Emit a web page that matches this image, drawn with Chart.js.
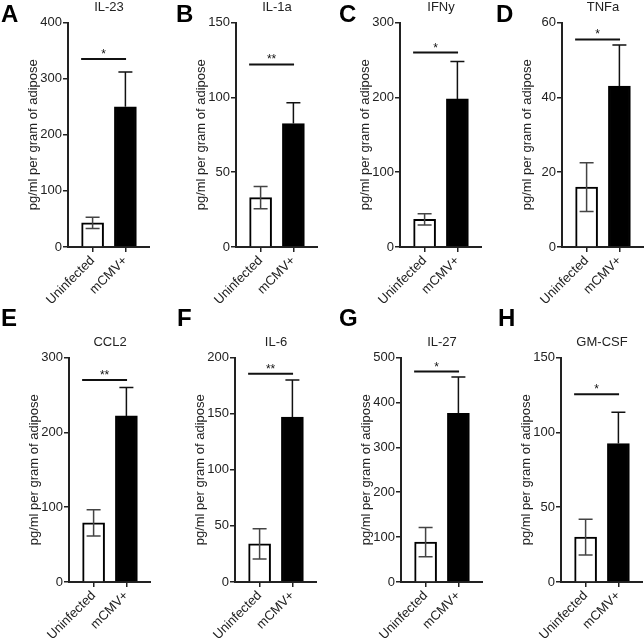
<!DOCTYPE html>
<html>
<head>
<meta charset="utf-8">
<script src="https://cdn.jsdelivr.net/npm/chart.js@4.4.1/dist/chart.umd.min.js"></script>
<style>
  html, body { margin: 0; padding: 0; background: #fff; overflow: hidden; }
  #wrap { position: relative; width: 644px; height: 640px; }
  .panel { position: absolute; }
  .letter {
    position: absolute;
    font: bold 24px "Liberation Sans", Arial, sans-serif;
    line-height: 24px;
    color: #000;
  }
</style>
</head>
<body>
<div id="wrap"></div>
<script>
// cytokine values (pg/ml per gram of adipose)
const letters = ["A", "B", "C", "D", "E", "F", "G", "H"];
const cytokines = ["IL-23", "IL-1a", "IFNy", "TNFa", "CCL2", "IL-6", "IL-27", "GM-CSF"];
const groups = ["Uninfected", "mCMV+"];
const uninfectedMean = [43, 33, 37, 16, 79, 34, 89, 30];
const uninfectedSem = [10, 7.5, 7.5, 6.5, 17.5, 13.5, 32.5, 12];
const infectedMean = [250, 82.5, 198, 43, 222, 147, 376, 92.5];
const infectedSem = [62, 14, 50, 11, 38, 33, 81, 21];
const yMax = [400, 150, 300, 60, 300, 200, 500, 150];
const yStep = [100, 50, 100, 20, 100, 50, 100, 50];
const sigY = [335, 122, 260, 55.5, 270, 185.5, 469, 125.5];
const sigLabel = ["*", "**", "*", "*", "**", "**", "*", "*"];

// page layout
const panelLeft = [0, 168, 332, 494, 1, 167, 333, 493];
const rowTop = [0, 335];
const letterPos = [[1, 2], [176, 2], [339, 2], [496, 2], [1, 306], [177, 306], [339, 306], [498, 306]];

const FONT = "'Liberation Sans', Arial, sans-serif";
const INK = "#222";

Chart.defaults.font.family = FONT;
Chart.defaults.color = INK;

// error bars + significance bar, drawn on top of the bars
function makeOverlay(p) {
  return {
    id: "overlay" + p,
    afterDatasetsDraw(chart) {
      const ctx = chart.ctx;
      const x = chart.scales.x;
      const y = chart.scales.y;
      const bars = chart.getDatasetMeta(0).data;
      const means = [uninfectedMean[p], infectedMean[p]];
      const sems = [uninfectedSem[p], infectedSem[p]];

      ctx.save();
      ctx.lineWidth = 1.5;
      bars.forEach((bar, i) => {
        const top = y.getPixelForValue(means[i] + sems[i]);
        const bottom = y.getPixelForValue(i === 0 ? means[i] - sems[i] : means[i]);
        ctx.strokeStyle = i === 0 ? "#444" : "#111";
        ctx.beginPath();
        ctx.moveTo(bar.x, top);
        ctx.lineTo(bar.x, bottom);
        ctx.moveTo(bar.x - 7, top);
        ctx.lineTo(bar.x + 7, top);
        if (i === 0) {
          ctx.moveTo(bar.x - 7, bottom);
          ctx.lineTo(bar.x + 7, bottom);
        }
        ctx.stroke();
      });

      // significance line
      const ly = y.getPixelForValue(sigY[p]);
      const x1 = x.getPixelForValue(-0.35);
      const x2 = x.getPixelForValue(1.02);
      ctx.strokeStyle = "#111";
      ctx.lineWidth = 2;
      ctx.beginPath();
      ctx.moveTo(x1, ly);
      ctx.lineTo(x2, ly);
      ctx.stroke();

      ctx.fillStyle = "#111";
      ctx.font = "12px " + FONT;
      ctx.textAlign = "center";
      ctx.textBaseline = "alphabetic";
      ctx.fillText(sigLabel[p], (x1 + x2) / 2, ly - 1);
      ctx.restore();
    }
  };
}

function createPanel(p) {
  const wrap = document.getElementById("wrap");
  const row = p < 4 ? 0 : 1;

  const canvas = document.createElement("canvas");
  canvas.className = "panel";
  canvas.width = 150;
  canvas.height = 305;
  canvas.style.left = panelLeft[p] + "px";
  canvas.style.top = rowTop[row] + "px";
  wrap.appendChild(canvas);

  const letter = document.createElement("div");
  letter.className = "letter";
  letter.textContent = letters[p];
  letter.style.left = letterPos[p][0] + "px";
  letter.style.top = letterPos[p][1] + "px";
  wrap.appendChild(letter);

  new Chart(canvas, {
    type: "bar",
    data: {
      datasets: [{
        data: [
          { x: 0, y: uninfectedMean[p] },
          { x: 1, y: infectedMean[p] }
        ],
        backgroundColor: ["#fff", "#000"],
        borderColor: "#000",
        borderWidth: 2,
        barThickness: 22
      }]
    },
    options: {
      responsive: false,
      animation: false,
      devicePixelRatio: 1,
      layout: {
        padding: { left: 26, right: 0, top: 0, bottom: 0 }
      },
      plugins: {
        legend: { display: false },
        tooltip: { enabled: false },
        title: {
          display: true,
          text: cytokines[p],
          fullSize: false,
          color: INK,
          font: { size: 13, weight: "normal" },
          padding: { top: 0, bottom: 7 }
        }
      },
      scales: {
        x: {
          type: "linear",
          offset: false,
          min: -0.75,
          max: 1.75,
          afterBuildTicks: s => { s.ticks = [{ value: 0 }, { value: 1 }]; },
          afterFit: s => { s.height = 58; },
          ticks: {
            callback: v => groups[v],
            autoSkip: false,
            maxRotation: 45,
            minRotation: 45,
            padding: 1,
            color: INK,
            font: { size: 13 }
          },
          grid: {
            offset: false,
            drawOnChartArea: false,
            tickLength: 5,
            color: INK,
            lineWidth: 1.5
          },
          border: { color: INK, width: 2 }
        },
        y: {
          min: 0,
          max: yMax[p],
          afterFit: s => { s.width = 42; },
          ticks: {
            stepSize: yStep[p],
            padding: 1,
            color: INK,
            font: { size: 13 }
          },
          grid: {
            drawOnChartArea: false,
            tickLength: 5,
            color: INK,
            lineWidth: 1.5
          },
          border: { color: INK, width: 2 },
          title: {
            display: true,
            text: "pg/ml per gram of adipose",
            color: INK,
            font: { size: 13 },
            padding: { top: 0, bottom: 0 }
          }
        }
      }
    },
    plugins: [makeOverlay(p)]
  });
}

for (let p = 0; p < 8; p++) {
  createPanel(p);
}
</script>
</body>
</html>
